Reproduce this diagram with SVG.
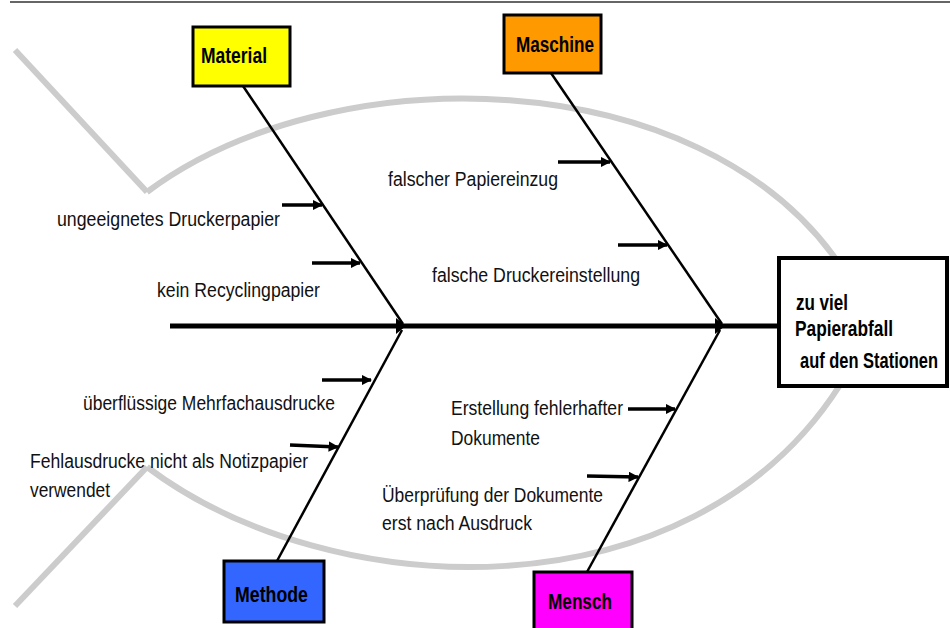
<svg xmlns="http://www.w3.org/2000/svg" width="950" height="628" viewBox="0 0 950 628">
<style>
.fish{fill:none;stroke:#cccccc;stroke-width:6;stroke-linejoin:miter}
.box{stroke:#000;stroke-width:3}
.lbl{font-family:"Liberation Sans",Arial,sans-serif;font-size:20px;fill:#111}
.hd{font-family:"Liberation Sans",Arial,sans-serif;font-size:22px;font-weight:bold;fill:#000}
.bone{stroke:#000;stroke-width:2.5;fill:none}
.sub{stroke:#000;stroke-width:3.5;fill:none;marker-end:url(#ah)}
</style>
<defs>
<marker id="ah" viewBox="0 0 10 10" refX="9" refY="5" markerWidth="3" markerHeight="3" orient="auto" markerUnits="strokeWidth">
<path d="M0,0 L10,5 L0,10 z" fill="#000"/>
</marker>
<marker id="ah2" viewBox="0 0 10 10" refX="9" refY="5" markerWidth="3.2" markerHeight="3.2" orient="auto" markerUnits="strokeWidth">
<path d="M0,0 L10,5 L0,10 z" fill="#000"/>
</marker>
</defs>
<rect width="950" height="628" fill="#fff"/>
<line x1="10" y1="2" x2="950" y2="2" stroke="#666" stroke-width="2"/>
<g id="fish">
<polyline class="fish" points="15,50 147,192"/>
<polyline class="fish" points="15,606 147,467"/>
<path class="fish" d="M147,192 C330,55 700,60 840,265"/>
<path class="fish" d="M147,467 C330,605 690,620 840,385"/>
</g>
<g id="connectors">
<line x1="170" y1="326" x2="792" y2="326" stroke="#000" stroke-width="5" marker-end="url(#ah2)"/>
<line class="bone" x1="243" y1="86" x2="403" y2="324"/>
<line class="bone" x1="551" y1="73" x2="722" y2="324"/>
<line class="bone" x1="277" y1="561" x2="402" y2="330"/>
<line class="bone" x1="587" y1="572" x2="720" y2="330"/>
<path d="M396,318 L406,326 L396,334 z" fill="#000"/>
<path d="M715,318 L725,326 L715,334 z" fill="#000"/>
<line class="sub" x1="282" y1="205" x2="322" y2="205"/>
<line class="sub" x1="312" y1="263" x2="360" y2="263" stroke-width="5"/>
<line class="sub" x1="558" y1="162" x2="610" y2="162"/>
<line class="sub" x1="618" y1="245" x2="667" y2="245"/>
<line class="sub" x1="322" y1="380" x2="371" y2="380"/>
<line class="sub" x1="290" y1="445" x2="338" y2="447"/>
<line class="sub" x1="628" y1="409" x2="675" y2="409"/>
<line class="sub" x1="587" y1="476" x2="638" y2="477"/>
</g>
<g id="material">
<rect class="box" x="193" y="27" width="97" height="59" fill="#ffff00"/>
<text class="hd" x="201" y="63" textLength="66" lengthAdjust="spacingAndGlyphs">Material</text>
</g>
<g id="maschine">
<rect class="box" x="504" y="15" width="97" height="58" fill="#ff9900"/>
<text class="hd" x="516" y="52" textLength="78" lengthAdjust="spacingAndGlyphs">Maschine</text>
</g>
<g id="methode">
<rect class="box" x="224" y="561" width="100" height="61" fill="#3366ff"/>
<text class="hd" x="235" y="602" textLength="73" lengthAdjust="spacingAndGlyphs">Methode</text>
</g>
<g id="mensch">
<rect class="box" x="534" y="572" width="98" height="60" fill="#ff00ff"/>
<text class="hd" x="548" y="609" textLength="64" lengthAdjust="spacingAndGlyphs">Mensch</text>
</g>
<g id="effect">
<rect x="779" y="258" width="168" height="128" fill="#fff" stroke="#000" stroke-width="4"/>
<text class="hd" font-size="20" x="796" y="310" textLength="52" lengthAdjust="spacingAndGlyphs">zu viel</text>
<text class="hd" font-size="20" x="795" y="336" textLength="98" lengthAdjust="spacingAndGlyphs">Papierabfall</text>
<text class="hd" font-size="20" x="800" y="368" textLength="138" lengthAdjust="spacingAndGlyphs">auf den Stationen</text>
</g>
<g id="causes">
<text class="lbl" x="57" y="226" textLength="223" lengthAdjust="spacingAndGlyphs">ungeeignetes Druckerpapier</text>
<text class="lbl" x="157" y="297" textLength="163" lengthAdjust="spacingAndGlyphs">kein Recyclingpapier</text>
<text class="lbl" x="388" y="186" textLength="170" lengthAdjust="spacingAndGlyphs">falscher Papiereinzug</text>
<text class="lbl" x="432" y="282" textLength="208" lengthAdjust="spacingAndGlyphs">falsche Druckereinstellung</text>
<text class="lbl" x="83" y="410" textLength="252" lengthAdjust="spacingAndGlyphs">überflüssige Mehrfachausdrucke</text>
<text class="lbl" x="30" y="468" textLength="278" lengthAdjust="spacingAndGlyphs">Fehlausdrucke nicht als Notizpapier</text>
<text class="lbl" x="30" y="497" textLength="80" lengthAdjust="spacingAndGlyphs">verwendet</text>
<text class="lbl" x="451" y="415" textLength="172" lengthAdjust="spacingAndGlyphs">Erstellung fehlerhafter</text>
<text class="lbl" x="451" y="445" textLength="89" lengthAdjust="spacingAndGlyphs">Dokumente</text>
<text class="lbl" x="382" y="502" textLength="221" lengthAdjust="spacingAndGlyphs">Überprüfung der Dokumente</text>
<text class="lbl" x="382" y="530" textLength="150" lengthAdjust="spacingAndGlyphs">erst nach Ausdruck</text>
</g>
</svg>
